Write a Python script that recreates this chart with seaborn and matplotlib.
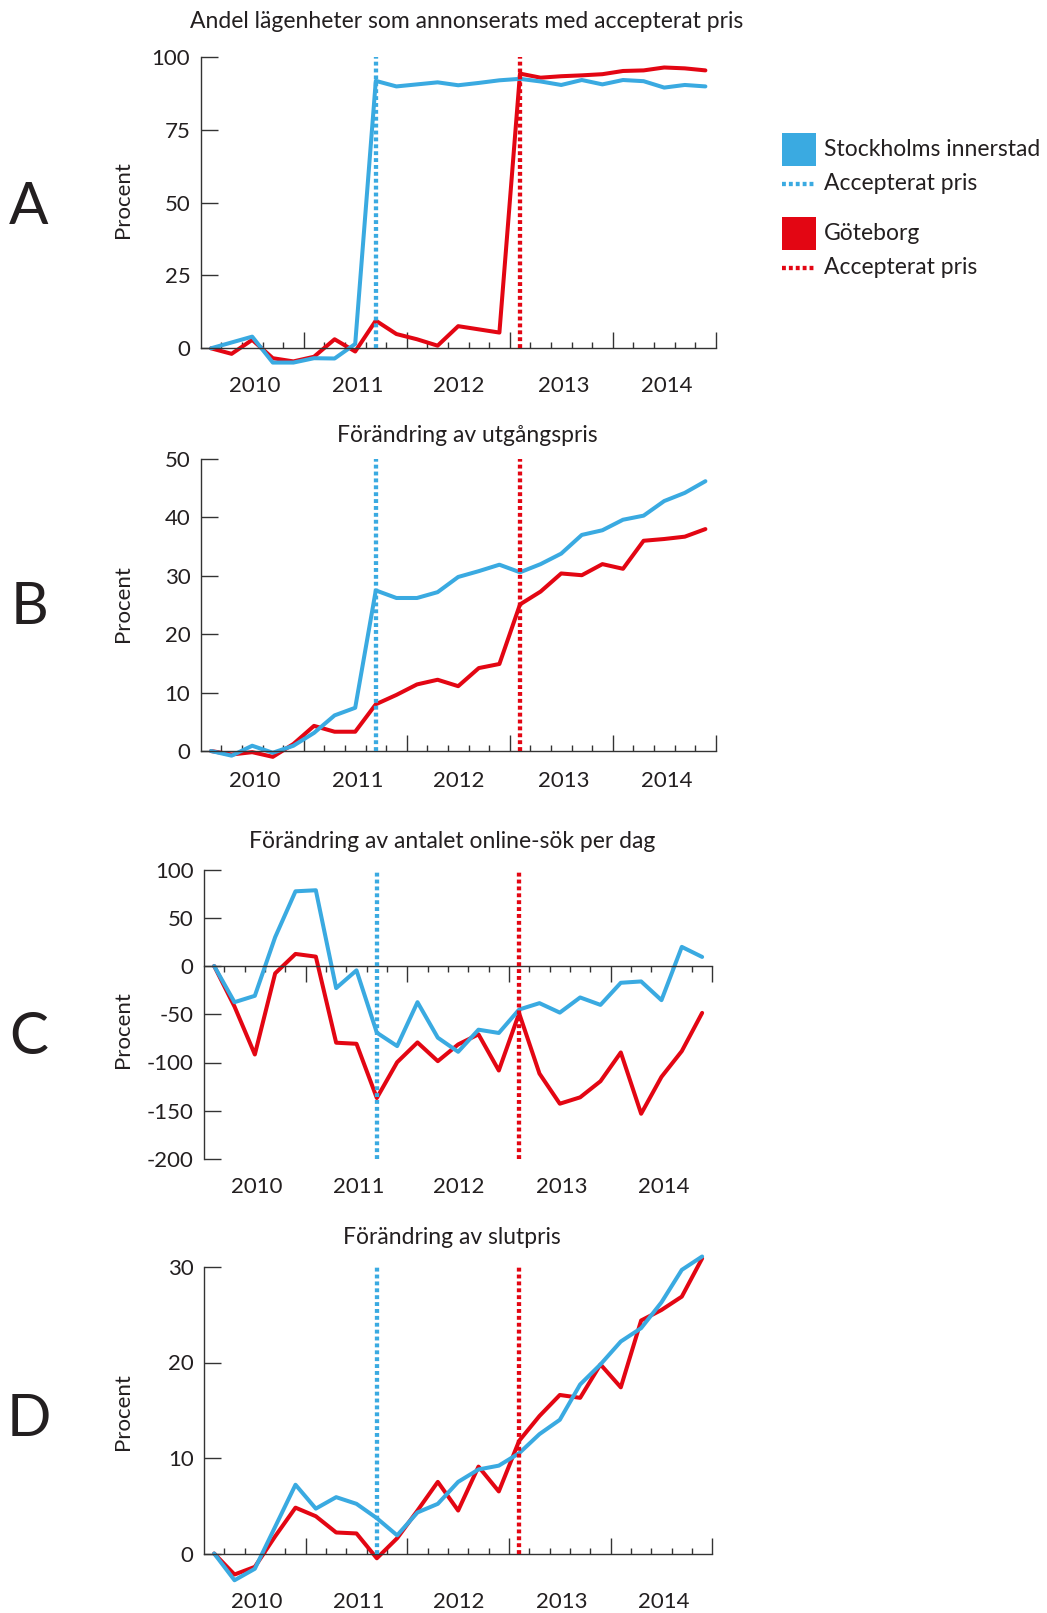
import numpy as np
import pandas as pd
import matplotlib.pyplot as plt
import seaborn as sns
from matplotlib.patches import Rectangle
from matplotlib.lines import Line2D

# ---------------------------------------------------------------------------
# Data, one value per period, 25 periods
# ---------------------------------------------------------------------------
periods = np.arange(25)
year_labels = ["2010", "2011", "2012", "2013", "2014"]
year_centres = [2.1, 7.1, 12.05, 17.1, 22.1]   # middle of each 5-period group
accept_sthlm = 8                                 # period when Stockholm switched
accept_gbg = 15                                  # period when Göteborg switched

a_sthlm = [0, 2.0, 4.0, -4.9, -4.9, -3.4, -3.5, 1.5, 91.8, 89.9, 90.6, 91.3, 90.3,
           91.1, 92.0, 92.5, 91.6, 90.4, 92.1, 90.6, 92.1, 91.7, 89.5, 90.4, 89.9]
a_gbg = [0, -1.9, 2.9, -3.4, -4.5, -2.9, 3.1, -1.1, 9.5, 4.9, 3.1, 0.9, 7.6,
         6.5, 5.4, 94.3, 92.9, 93.4, 93.7, 94.1, 95.2, 95.4, 96.4, 96.1, 95.4]

b_sthlm = [0, -0.8, 0.9, -0.3, 0.9, 3.1, 6.1, 7.4, 27.5, 26.2, 26.2, 27.2, 29.8,
           30.8, 31.9, 30.6, 32.0, 33.8, 37.0, 37.8, 39.6, 40.3, 42.8, 44.2, 46.2]
b_gbg = [0, -0.6, -0.2, -1.0, 1.2, 4.3, 3.3, 3.3, 8.0, 9.6, 11.4, 12.2, 11.1,
         14.2, 14.9, 25.1, 27.3, 30.4, 30.1, 32.0, 31.2, 36.0, 36.3, 36.7, 38.0]

c_sthlm = [0, -37.5, -30.9, 29.9, 77.4, 78.5, -22.9, -4.5, -69.1, -83.0, -37.5, -74.3, -88.9,
           -66.0, -69.4, -45.1, -38.5, -48.3, -32.6, -40.3, -17.4, -16.0, -35.4, 19.8, 9.4]
c_gbg = [0, -42.0, -91.7, -7.6, 12.5, 9.7, -79.5, -80.6, -136.8, -99.7, -79.2, -98.6, -81.3,
         -70.8, -108.3, -49.0, -111.5, -142.7, -136.1, -119.4, -89.6, -153.1, -114.9, -88.2, -48.6]

d_sthlm = [0, -2.8, -1.6, 2.8, 7.2, 4.7, 5.9, 5.2, 3.7, 1.9, 4.3, 5.2, 7.5,
           8.8, 9.2, 10.5, 12.5, 14.0, 17.7, 19.8, 22.2, 23.6, 26.3, 29.7, 31.1]
d_gbg = [0, -2.2, -1.4, 1.8, 4.8, 3.9, 2.2, 2.1, -0.5, 1.6, 4.5, 7.5, 4.5,
         9.1, 6.5, 11.8, 14.4, 16.6, 16.3, 19.8, 17.4, 24.4, 25.5, 26.9, 30.9]

# ---------------------------------------------------------------------------
# Style
# ---------------------------------------------------------------------------
BLUE = "#3aaae1"
RED = "#e30613"
INK = "#231f20"
SPINE = "#333333"
DOTS = (0, (0.9, 0.7))

sns.set_style("white")
plt.rcParams["font.family"] = ["Lato", "DejaVu Sans"]
plt.rcParams["font.size"] = 16
plt.rcParams["text.color"] = INK
plt.rcParams["axes.unicode_minus"] = False

W, H = 1047, 1613
fig = plt.figure(figsize=(W / 100, H / 100), dpi=100)


def fx(px):
    return px / W


def fy(py):
    return 1 - py / H


# title, stockholm, göteborg, ylim, yticks,
# x span (left, right) px, pixel rows of lowest / highest y tick,
# title (x, y) px, letter y px, ylabel y px, year label y px, tick direction
panels = [
    ("Andel lägenheter som annonserats med accepterat pris", a_sthlm, a_gbg,
     (-6, 100), [0, 25, 50, 75, 100], (200.7, 715.7), (348.3, 57),
     (467, 22), "A", 208, 200, 385.5, "in"),
    ("Förändring av utgångspris", b_sthlm, b_gbg,
     (-1.6, 50), [0, 10, 20, 30, 40, 50], (200.7, 715.7), (751, 459),
     (467, 435), "B", 608, 604, 781, "in"),
    ("Förändring av antalet online-sök per dag", c_sthlm, c_gbg,
     (-200, 100), [-200, -150, -100, -50, 0, 50, 100], (204, 712.3), (1159, 869.5),
     (452, 842), "C", 1037, 1030, 1187, "out"),
    ("Förändring av slutpris", d_sthlm, d_gbg,
     (-3.3, 31.5), [0, 10, 20, 30], (204, 712.3), (1553.5, 1267),
     (452, 1237), "D", 1419, 1412, 1601.5, "in"),
]

for (title, s_vals, g_vals, ylim, yticks, xspan, yrows, tpos, letter, letter_y,
     ylab_y, year_y, tdir) in panels:
    l, r = xspan
    # convert tick rows into an axes box for the chosen ylim
    per_unit = (yrows[0] - yrows[1]) / (yticks[-1] - yticks[0])
    t = yrows[1] - (ylim[1] - yticks[-1]) * per_unit
    b = yrows[0] + (yticks[0] - ylim[0]) * per_unit
    ax = fig.add_axes([fx(l), fy(b), fx(r) - fx(l), (b - t) / H])
    ax.set_facecolor("none")

    df = pd.DataFrame({
        "period": np.concatenate([periods, periods]),
        "procent": np.concatenate([s_vals, g_vals]),
        "omrade": ["Stockholms innerstad"] * 25 + ["Göteborg"] * 25,
    })
    sns.lineplot(data=df, x="period", y="procent", hue="omrade",
                 hue_order=["Göteborg", "Stockholms innerstad"],
                 palette={"Stockholms innerstad": BLUE, "Göteborg": RED},
                 linewidth=2.9, legend=False, ax=ax, clip_on=False)

    # accepted-price markers from lowest to highest y tick
    ax.vlines([accept_sthlm], yticks[0], yticks[-1], colors=BLUE,
              linestyles=DOTS, linewidth=3.1, zorder=5)
    ax.vlines([accept_gbg], yticks[0], yticks[-1], colors=RED,
              linestyles=DOTS, linewidth=3.1, zorder=5)

    ax.set_xlim(-0.5, 24.5)
    ax.set_ylim(*ylim)
    ax.set_xlabel("")
    ax.set_ylabel("")

    for side in ["top", "right"]:
        ax.spines[side].set_visible(False)
    for side in ["left", "bottom"]:
        ax.spines[side].set_color(SPINE)
        ax.spines[side].set_linewidth(1.0)
    ax.spines["bottom"].set_position(("data", 0))
    ax.spines["left"].set_bounds(yticks[0], yticks[-1])

    ax.set_yticks(yticks)
    ax.tick_params(axis="y", left=True, direction="in", length=12.5, width=1.0,
                   color=SPINE, pad=7.5, labelsize=16, labelcolor=INK)
    ax.set_xticks(np.arange(4.5, 25, 5))
    ax.set_xticks(np.arange(0.5, 25, 1), minor=True)
    ax.tick_params(axis="x", which="major", bottom=True, direction=tdir,
                   length=11.5, width=1.0, color=SPINE, labelbottom=False)
    ax.tick_params(axis="x", which="minor", bottom=True, direction=tdir,
                   length=4.5, width=1.0, color=SPINE, labelbottom=False)

    for c, lab in zip(year_centres, year_labels):
        ax.text(c, -(year_y - b) / (b - t), lab, transform=ax.get_xaxis_transform(),
                ha="center", va="center", fontsize=16)

    fig.text(fx(tpos[0]), fy(tpos[1]), title, ha="center", va="center", fontsize=16.5)
    fig.text(fx(29), fy(letter_y), letter, ha="center", va="center", fontsize=42)
    fig.text(fx(123), fy(ylab_y), "Procent", ha="center", va="center",
             rotation=90, fontsize=16)

# ---------------------------------------------------------------------------
# Legend, drawn as two groups (square = series, dotted = accepted price)
# ---------------------------------------------------------------------------
legend_rows = [
    (BLUE, "Stockholms innerstad", 149, 184),
    (RED, "Göteborg", 233, 268),
]
for colour, name, y_sq, y_dot in legend_rows:
    fig.add_artist(Rectangle((fx(782), fy(y_sq + 17)), 34 / W, 33 / H,
                             transform=fig.transFigure, facecolor=colour,
                             edgecolor="none"))
    fig.add_artist(Line2D([fx(782), fx(816)], [fy(y_dot), fy(y_dot)],
                          transform=fig.transFigure, color=colour,
                          linestyle=DOTS, linewidth=3.1))
    fig.text(fx(824), fy(y_sq), name, ha="left", va="center", fontsize=16.5)
    fig.text(fx(824), fy(y_dot), "Accepterat pris", ha="left", va="center",
             fontsize=16.5)

fig.savefig("out.png", dpi=100)
